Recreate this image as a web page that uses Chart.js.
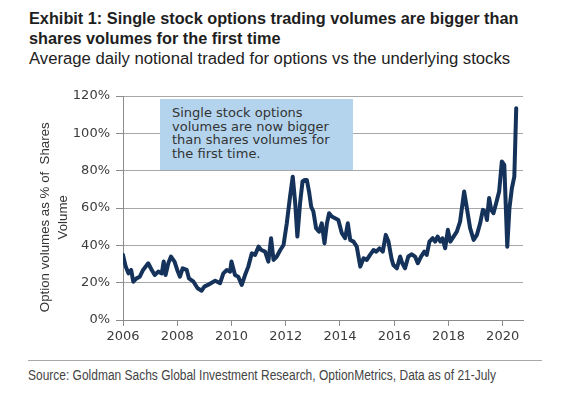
<!DOCTYPE html>
<html>
<head>
<meta charset="utf-8">
<script src="https://cdn.jsdelivr.net/npm/chart.js@4.4.0/dist/chart.umd.min.js"></script>
<style>
  body { margin: 0; background: #fff; width: 565px; height: 396px; position: relative; overflow: hidden; }
  .title { position: absolute; left: 29px; font-family: "Liberation Sans", Arial, sans-serif; font-weight: bold; font-size: 16.3px; color: #1e1e1e; white-space: nowrap; transform-origin: 0 0; }
  .sub { position: absolute; left: 29px; top: 49px; font-family: "Liberation Sans", Arial, sans-serif; font-size: 16.7px; color: #222; white-space: nowrap; transform-origin: 0 0; }
  .note { position: absolute; left: 160px; top: 99px; width: 181px; height: 64px; padding: 7px 0 0 12px; background: #b4d4ee; font-family: "DejaVu Sans", sans-serif; font-size: 13px; line-height: 13.6px; color: #333; }
  .rule { position: absolute; left: 28px; top: 360px; width: 514px; height: 1px; background: #a8a8a8; }
  .src { position: absolute; left: 28px; top: 367px; font-family: "Liberation Sans", Arial, sans-serif; font-size: 14px; color: #444; white-space: nowrap; transform-origin: 0 0; }
  #wrap { position: absolute; left: 0; top: 80px; width: 565px; height: 270px; }
</style>
</head>
<body>
<div class="title" id="t1" style="top:9px">Exhibit 1: Single stock options trading volumes are bigger than</div>
<div class="title" id="t2" style="top:29px">shares volumes for the first time</div>
<div class="sub" id="sub">Average daily notional traded for options vs the underlying stocks</div>
<div id="wrap"><canvas id="c" width="565" height="270"></canvas></div>
<div class="note">Single stock options<br>volumes are now bigger<br>than shares volumes for<br>the first time.</div>
<div class="rule"></div>
<div class="src" id="src">Source: Goldman Sachs Global Investment Research, OptionMetrics, Data as of 21-July</div>
<script>
// decimal year of each reading
const years = [
  2006.00, 2006.10, 2006.20, 2006.30, 2006.38, 2006.50, 2006.62, 2006.74, 2006.93,
  2007.06, 2007.17, 2007.30, 2007.43, 2007.50, 2007.57, 2007.67, 2007.77, 2007.90,
  2008.00, 2008.10, 2008.20, 2008.35, 2008.43, 2008.60, 2008.75, 2008.90,
  2009.00, 2009.13, 2009.27, 2009.40, 2009.58, 2009.70, 2009.83, 2009.95,
  2010.00, 2010.13, 2010.25, 2010.38, 2010.50, 2010.62, 2010.75, 2010.87,
  2011.00, 2011.10, 2011.24, 2011.36, 2011.46, 2011.55, 2011.67, 2011.80, 2011.92,
  2012.04, 2012.16, 2012.26, 2012.35, 2012.43, 2012.53, 2012.62, 2012.70, 2012.78, 2012.86, 2012.94,
  2013.02, 2013.12, 2013.23, 2013.33, 2013.43, 2013.52, 2013.60, 2013.70, 2013.82, 2013.94,
  2014.07, 2014.19, 2014.29, 2014.38, 2014.50, 2014.62, 2014.75, 2014.87, 2014.99,
  2015.11, 2015.24, 2015.34, 2015.46, 2015.58, 2015.69, 2015.79, 2015.90, 2015.97,
  2016.10, 2016.22, 2016.30, 2016.40, 2016.52, 2016.65, 2016.77, 2016.87, 2016.99,
  2017.11, 2017.20, 2017.30, 2017.42, 2017.51, 2017.60, 2017.70, 2017.78, 2017.88, 2017.98,
  2018.07, 2018.19, 2018.31, 2018.43, 2018.58, 2018.68, 2018.80, 2018.93,
  2019.05, 2019.17, 2019.27, 2019.36, 2019.42, 2019.50, 2019.58, 2019.66, 2019.76, 2019.87, 2019.97,
  2020.06, 2020.17, 2020.25, 2020.34, 2020.43, 2020.50
];
// option volumes as % of shares volume
const ratio = [
  34.9, 28.6, 25.0, 26.8, 20.5, 22.3, 23.2, 26.8, 30.4,
  26.8, 24.1, 25.9, 25.0, 31.3, 24.1, 30.4, 34.0, 31.3,
  26.8, 23.2, 27.7, 26.8, 22.3, 20.5, 17.0, 15.7,
  17.9, 18.8, 20.0, 21.0, 19.7, 25.0, 26.8, 25.9,
  31.3, 24.1, 23.2, 18.8, 24.1, 28.6, 35.7, 34.9,
  39.3, 37.5, 36.6, 31.3, 43.8, 32.2, 34.0, 37.5, 40.2,
  51.8, 66.1, 76.8, 62.6, 44.7, 62.6, 74.2, 75.0, 75.0, 68.8, 60.7,
  58.1, 49.2, 47.3, 51.8, 41.1, 51.8, 57.2, 55.4, 54.5, 53.6,
  46.5, 43.8, 51.8, 42.9, 42.0, 39.3, 28.6, 33.1, 32.2,
  34.9, 37.5, 36.6, 38.4, 36.6, 45.6, 42.0, 33.0, 29.5,
  27.7, 34.0, 30.4, 27.7, 34.0, 35.2, 34.0, 30.4, 34.0,
  36.6, 34.9, 42.0, 43.8, 42.0, 44.7, 42.0, 43.8, 38.4, 48.3,
  42.0, 44.7, 47.3, 52.7, 68.8, 59.9, 49.2, 42.9,
  45.6, 51.8, 59.0, 58.1, 53.6, 65.3, 59.0, 57.2, 62.6, 68.8, 84.9,
  83.1, 39.3, 59.9, 70.6, 76.8, 113.5
];
const yTicks = [0, 20, 40, 60, 80, 100, 120];
const yearTicks = [2006, 2008, 2010, 2012, 2014, 2016, 2018, 2020];

// squeeze/stretch a text line horizontally to the width it has in the reference
function fitWidth(id, w) {
  const el = document.getElementById(id);
  el.style.transform = 'scaleX(' + (w / el.offsetWidth) + ')';
}
fitWidth('src', 468);

const points = years.map((x, i) => ({ x: x, y: ratio[i] }));

new Chart(document.getElementById('c').getContext('2d'), {
  type: 'line',
  data: {
    datasets: [{
      data: points,
      borderColor: '#14325a',
      borderWidth: 4,
      pointRadius: 0,
      tension: 0,
      borderJoinStyle: 'round',
      borderCapStyle: 'round'
    }]
  },
  options: {
    responsive: false,
    animation: false,
    layout: { padding: { top: 16, right: 42, left: 0, bottom: 0 } },
    plugins: { legend: { display: false }, tooltip: { enabled: false } },
    scales: {
      x: {
        type: 'linear',
        min: 2006,
        max: 2020.75,
        afterFit: s => { s.height = 30; },
        afterBuildTicks: s => { s.ticks = yearTicks.map(v => ({ value: v })); },
        ticks: {
          includeBounds: false,
          autoSkip: false,
          maxRotation: 0,
          padding: 3,
          color: '#3c3c3c',
          font: { family: 'DejaVu Sans', size: 13 },
          callback: v => String(v)
        },
        grid: { drawOnChartArea: false, drawTicks: true, tickLength: 6, color: '#8c8c8c' },
        border: { color: '#8c8c8c' }
      },
      y: {
        min: 0,
        max: 120,
        afterFit: s => { s.width = 123; },
        afterBuildTicks: s => { s.ticks = yTicks.map(v => ({ value: v })); },
        ticks: {
          padding: 6,
          color: '#3c3c3c',
          font: { family: 'DejaVu Sans', size: 13 },
          callback: v => v + '%'
        },
        grid: { color: '#a8a8a8', tickLength: 7, tickColor: '#8c8c8c' },
        border: { color: '#8c8c8c' },
        title: {
          display: true,
          text: ['Option volumes as % of  Shares     ', 'Volume     '],
          color: '#333',
          padding: { top: 36, bottom: 0 },
          font: { family: 'Liberation Sans', size: 13.3, lineHeight: 1.36 }
        }
      }
    }
  }
});
</script>
</body>
</html>
